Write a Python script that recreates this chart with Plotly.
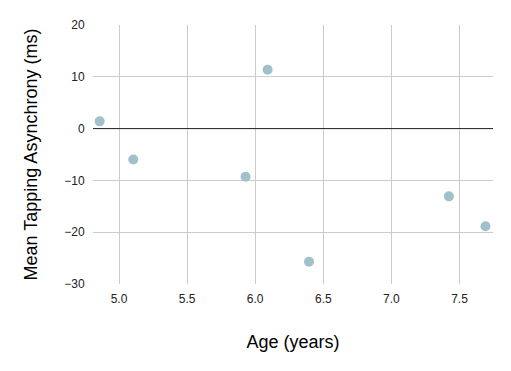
import plotly.graph_objects as go

age = [4.858, 5.105, 5.929, 6.091, 6.395, 7.422, 7.691]
asynchrony = [1.4, -5.96, -9.29, 11.35, -25.7, -13.08, -18.85]
x_ticks = [5.0, 5.5, 6.0, 6.5, 7.0, 7.5]
x_tick_text = ["5.0", "5.5", "6.0", "6.5", "7.0", "7.5"]
y_ticks = [-30, -20, -10, 0, 10, 20]

fig = go.Figure()
fig.add_trace(go.Scatter(
    x=age, y=asynchrony, mode="markers",
    marker=dict(size=10, color="#a0c0ca", line=dict(width=0)),
    showlegend=False,
))
fig.add_shape(type="line", xref="paper", x0=0, x1=1, yref="y", y0=0, y1=0,
              line=dict(color="#222222", width=1))

fig.update_layout(
    width=511, height=371,
    margin=dict(l=93, r=18, t=25, b=87),
    paper_bgcolor="white", plot_bgcolor="white",
    font=dict(family="Liberation Sans, Arial, sans-serif", color="#222222", size=12),
    xaxis=dict(
        range=[4.809, 7.746], tickvals=x_ticks, ticktext=x_tick_text,
        showgrid=True, gridcolor="#cccccc", gridwidth=1, zeroline=False,
        showline=False, ticks="outside", ticklen=4, tickcolor="rgba(0,0,0,0)",
        title=dict(text="Age (years)", font=dict(size=18, color="#000000"), standoff=29),
    ),
    yaxis=dict(
        range=[-30, 20], tickvals=y_ticks,
        showgrid=True, gridcolor="#cccccc", gridwidth=1, zeroline=False,
        showline=False, ticks="outside", ticklen=5, tickcolor="rgba(0,0,0,0)",
        title=dict(text="Mean Tapping Asynchrony (ms)", font=dict(size=18, color="#000000"), standoff=21),
    ),
)

fig.write_html("out.html")
